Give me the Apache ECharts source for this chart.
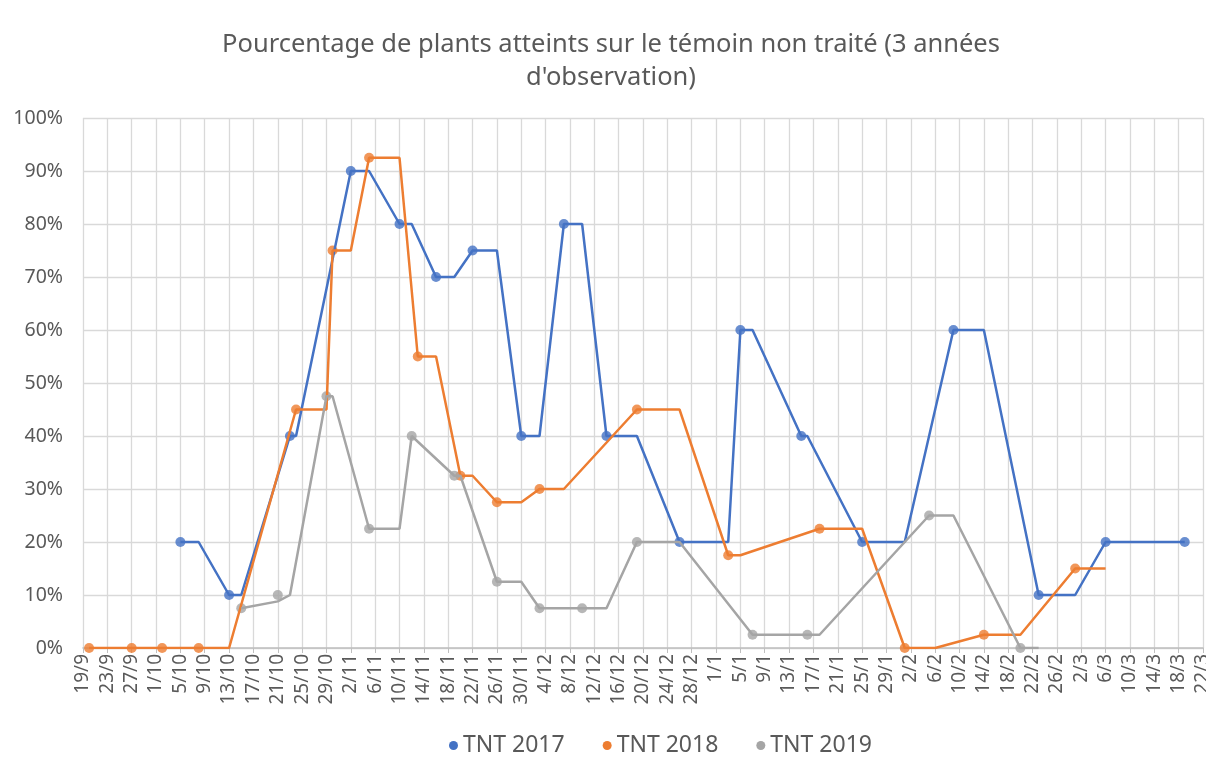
<!DOCTYPE html>
<html>
<head>
<meta charset="utf-8">
<script src="https://cdn.jsdelivr.net/npm/echarts@6/dist/echarts.min.js"></script>
<style>
  html, body { margin: 0; padding: 0; background: #fff; }
  #chart { width: 1206px; height: 774px; }
</style>
</head>
<body>
<div id="chart"></div>
<script>
// étiquettes de l'axe des dates (tous les 4 jours)
const tickLabels = ['19/9','23/9','27/9','1/10','5/10','9/10','13/10','17/10','21/10','25/10','29/10',
  '2/11','6/11','10/11','14/11','18/11','22/11','26/11','30/11','4/12','8/12','12/12','16/12','20/12',
  '24/12','28/12','1/1','5/1','9/1','13/1','17/1','21/1','25/1','29/1','2/2','6/2','10/2','14/2',
  '18/2','22/2','26/2','2/3','6/3','10/3','14/3','18/3','22/3']

// TNT 2017
const marks2017Dates = ['5/10','13/10','23/10','2/11','10/11','16/11','22/11','30/11','7/12','14/12','26/12','5/1','15/1','25/1','9/2','23/2','6/3','19/3']
const marks2017Values = [20, 10, 40, 90, 80, 70, 75, 40, 80, 40, 20, 60, 40, 20, 60, 10, 20, 20]
const line2017Dates = ['5/10','8/10','13/10','15/10','23/10','24/10','2/11','5/11','10/11','12/11','16/11','19/11',
  '22/11','26/11','30/11','3/12','7/12','10/12','14/12','19/12','26/12','3/1','5/1','7/1','15/1','16/1',
  '25/1','1/2','9/2','14/2','23/2','1/3','6/3','19/3']
const line2017Values = [20, 20, 10, 10, 40, 40, 90, 90, 80, 80, 70, 70, 75, 75, 40, 40, 80, 80, 40, 40,
  20, 20, 60, 60, 40, 40, 20, 20, 60, 60, 10, 10, 20, 20]

// TNT 2018
const marks2018Dates = ['20/9','27/9','2/10','8/10','24/10','30/10','5/11','13/11','20/11','26/11','3/12','19/12','3/1','18/1','1/2','14/2','1/3']
const marks2018Values = [0, 0, 0, 0, 45, 75, 92.5, 55, 32.5, 27.5, 30, 45, 17.5, 22.5, 0, 2.5, 15]
const line2018Dates = ['20/9','27/9','2/10','8/10','13/10','24/10','29/10','30/10','2/11','5/11','10/11','13/11',
  '16/11','20/11','22/11','26/11','30/11','3/12','7/12','19/12','26/12','3/1','5/1','18/1','25/1','1/2',
  '6/2','14/2','20/2','1/3','6/3']
const line2018Values = [0, 0, 0, 0, 0, 45, 45, 75, 75, 92.5, 92.5, 55, 55, 32.5, 32.5, 27.5, 27.5, 30, 30,
  45, 45, 17.5, 17.5, 22.5, 22.5, 0, 0, 2.5, 2.5, 15, 15]

// TNT 2019
const marks2019Dates = ['15/10','21/10','29/10','5/11','12/11','19/11','26/11','3/12','10/12','19/12','7/1','16/1','5/2','20/2']
const marks2019Values = [7.5, 10, 47.5, 22.5, 40, 32.5, 12.5, 7.5, 7.5, 20, 2.5, 2.5, 25, 0]
const line2019Dates = ['15/10','21/10','23/10','29/10','30/10','5/11','10/11','12/11','19/11','20/11','26/11',
  '30/11','3/12','10/12','14/12','19/12','26/12','7/1','16/1','18/1','5/2','9/2','20/2','23/2']
const line2019Values = [7.5, 8.8, 10, 47.5, 47.5, 22.5, 22.5, 40, 32.5, 32.5, 12.5, 12.5, 7.5, 7.5, 7.5,
  20, 20, 2.5, 2.5, 2.5, 25, 25, 0, 0]

const textColor = '#595959'
const gridColor = '#d9d9d9'
const font = 'Noto Sans'

// nombre de jours depuis le 19/9
function toDay(label) {
  const parts = label.split('/')
  const d = +parts[0]
  const m = +parts[1]
  const y = m >= 9 ? 2017 : 2018
  return (Date.UTC(y, m - 1, d) - Date.UTC(2017, 8, 19)) / 86400000
}

function pairs(dates, values) {
  return dates.map((dt, i) => [toDay(dt), values[i]])
}

function makeSeries(name, color, lineDates, lineValues, markDates, markValues) {
  return [
    {
      name: name,
      type: 'line',
      data: pairs(lineDates, lineValues),
      showSymbol: false,
      symbol: 'none',
      lineStyle: { color: color, width: 2.5 },
      itemStyle: { color: color }
    },
    {
      name: name,
      type: 'scatter',
      data: pairs(markDates, markValues),
      symbol: 'circle',
      symbolSize: 10,
      itemStyle: { color: color }
    }
  ]
}

const chart = echarts.init(document.getElementById('chart'))

const option = {
  animation: false,
  backgroundColor: '#fff',
  title: {
    text: "Pourcentage de plants atteints sur le témoin non traité (3 années\nd'observation)",
    left: 611,
    top: 28,
    textAlign: 'center',
    padding: 0,
    textStyle: {
      fontFamily: font,
      fontSize: 25.5,
      fontWeight: 'normal',
      color: textColor,
      lineHeight: 33
    }
  },
  legend: {
    left: 444,
    bottom: 12,
    itemGap: 38,
    itemWidth: 9,
    itemHeight: 9,
    icon: 'circle',
    data: ['TNT 2017', 'TNT 2018', 'TNT 2019'],
    textStyle: { fontFamily: font, fontSize: 23, color: textColor }
  },
  grid: {
    left: 83,
    right: 3,
    top: 118,
    bottom: 126,
    containLabel: false,
    outerBoundsMode: 'none'
  },
  xAxis: {
    type: 'value',
    min: 0,
    max: 184,
    interval: 4,
    axisLine: { show: true, lineStyle: { color: '#bfbfbf', width: 1.5 } },
    axisTick: { show: true, length: 5, lineStyle: { color: '#bfbfbf' } },
    splitLine: { show: true, lineStyle: { color: gridColor, width: 1.3 } },
    axisLabel: {
      rotate: 90,
      margin: 6,
      fontFamily: font,
      fontSize: 19,
      color: textColor,
      showMinLabel: true,
      showMaxLabel: true,
      hideOverlap: false,
      formatter: function (v) { return tickLabels[Math.round(v / 4)] || '' }
    }
  },
  yAxis: {
    type: 'value',
    min: 0,
    max: 100,
    interval: 10,
    axisLine: { show: false },
    axisTick: { show: false },
    splitLine: { show: true, lineStyle: { color: gridColor, width: 1.3 } },
    axisLabel: {
      margin: 20,
      fontFamily: font,
      fontSize: 19.5,
      color: textColor,
      formatter: '{value}%'
    }
  },
  series: [].concat(
    makeSeries('TNT 2017', '#4472c4', line2017Dates, line2017Values, marks2017Dates, marks2017Values),
    makeSeries('TNT 2018', '#ed7d31', line2018Dates, line2018Values, marks2018Dates, marks2018Values),
    makeSeries('TNT 2019', '#a5a5a5', line2019Dates, line2019Values, marks2019Dates, marks2019Values)
  )
}

chart.setOption(option)
</script>
</body>
</html>
